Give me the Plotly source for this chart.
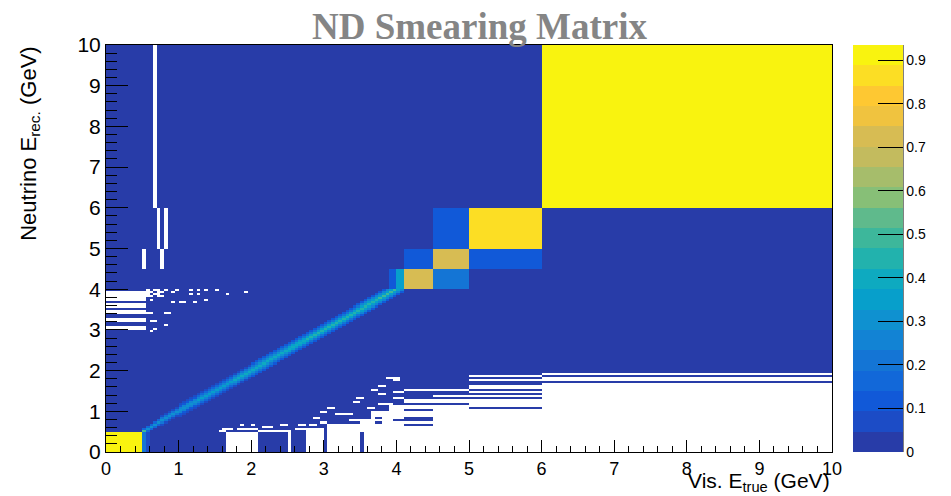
import numpy as np
import plotly.graph_objects as go

# ---- binning (GeV) ----
fine_true = np.round(np.arange(0.5, 4.1 + 1e-9, 0.05), 3)
fine_reco = np.round(np.arange(0.5, 4.0 + 1e-9, 0.05), 3)
true_edges = np.concatenate([[0.0], fine_true, [4.5, 5.0, 6.0, 10.0]])
reco_edges = np.concatenate([[0.0], fine_reco, [4.5, 5.0, 6.0, 10.0]])

# ---- matrix content ----
floor_value = 0.01  # populated but tiny cells

# coarse / special cells: true lo, true hi, reco lo, reco hi
block_true_lo = [0.0, 0.50, 0.55, 0.50, 3.90, 4.00, 4.10, 4.10, 4.50, 4.50, 4.50, 5.00, 5.00, 6.00]
block_true_hi = [0.5, 0.55, 0.60, 0.55, 4.00, 4.10, 4.50, 4.50, 5.00, 5.00, 5.00, 6.00, 6.00, 10.0]
block_reco_lo = [0.0, 0.00, 0.00, 0.50, 4.00, 4.00, 4.00, 4.50, 4.00, 4.50, 5.00, 4.50, 5.00, 6.00]
block_reco_hi = [0.5, 0.50, 0.50, 0.55, 4.50, 4.50, 4.50, 5.00, 4.50, 5.00, 6.00, 5.00, 6.00, 10.0]
block_value   = [0.92, 0.20, 0.08, 0.48, 0.10, 0.33, 0.73, 0.10, 0.21, 0.72, 0.10, 0.14, 0.86, 0.935]

# diagonal response, one entry per 0.25 GeV of true energy from 0.5 GeV
diag_core = [0.32, 0.30, 0.32, 0.34, 0.36, 0.38, 0.40, 0.41, 0.42, 0.43, 0.44, 0.45, 0.46, 0.47]
diag_off1 = [0.18, 0.22, 0.25, 0.27, 0.28, 0.30, 0.31, 0.32, 0.33, 0.33, 0.34, 0.34, 0.35, 0.35]
diag_off2 = [0.04, 0.08, 0.12, 0.15, 0.17, 0.19, 0.20, 0.21, 0.22, 0.22, 0.23, 0.23, 0.24, 0.24]
diag_off3 = [0.01, 0.03, 0.05, 0.07, 0.08, 0.09, 0.10, 0.11, 0.11, 0.12, 0.12, 0.13, 0.13, 0.13]

# empty regions: true lo, true hi, reco lo, reco hi
empty_regions = [
    (0.65, 0.70, 6.0, 10.0),
    (0.70, 0.75, 5.0, 6.0),
    (0.80, 0.85, 5.0, 6.0),
    (0.50, 0.55, 4.5, 5.0),
    (0.75, 0.80, 4.5, 5.0),
    (0.0, 0.55, 3.70, 3.95),
    (0.0, 0.55, 3.55, 3.65),
    (0.0, 0.55, 3.40, 3.50),
    (0.0, 0.55, 3.20, 3.30),
    (0.0, 0.55, 3.00, 3.10),
    (1.65, 2.10, 0.0, 0.5),
    (2.50, 2.55, 0.0, 0.55),
    (2.75, 3.00, 0.0, 0.60),
    (3.05, 3.50, 0.0, 0.70),
    (3.50, 3.55, 0.5, 0.80),
    (3.55, 4.10, 0.0, 0.80),
    (3.65, 3.90, 0.80, 1.00),
    (3.90, 4.10, 0.80, 1.15),
    (4.10, 4.50, 0.0, 1.55),
    (4.50, 5.00, 0.0, 1.55),
    (5.00, 6.00, 0.0, 1.90),
    (6.00, 10.0, 0.0, 1.95),
]

# populated rows inside the empty regions: true lo, true hi, reco lo, reco hi
filled_rows = [
    (3.70, 3.80, 0.70, 0.75),
    (3.70, 3.80, 0.80, 0.85),
    (3.95, 4.10, 0.75, 0.80),
    (4.10, 4.50, 1.30, 1.50),
    (4.10, 4.50, 1.15, 1.20),
    (4.10, 4.50, 1.00, 1.05),
    (4.10, 4.50, 0.75, 0.85),
    (4.10, 4.50, 0.65, 0.70),
    (4.50, 5.00, 1.40, 1.50),
    (4.50, 5.00, 1.30, 1.35),
    (4.50, 5.00, 1.15, 1.20),
    (5.00, 6.00, 1.80, 1.85),
    (5.00, 6.00, 1.65, 1.75),
    (5.00, 6.00, 1.50, 1.55),
    (5.00, 6.00, 1.40, 1.45),
    (5.00, 6.00, 1.30, 1.35),
    (5.00, 6.00, 1.05, 1.10),
    (6.00, 10.0, 1.85, 1.90),
    (6.00, 10.0, 1.70, 1.75),
]

# empty one-row dashes: true lo, true hi, reco lo
empty_dashes = [
    (1.55, 1.65, 0.50),
    (1.60, 1.75, 0.55), (1.80, 2.10, 0.55),
    (1.85, 1.90, 0.65), (2.00, 2.05, 0.65),
    (2.10, 2.50, 0.50),
    (2.15, 2.30, 0.60),
    (2.40, 2.50, 0.65),
    (2.60, 2.75, 0.55),
    (2.65, 2.75, 0.65),
    (2.80, 2.90, 0.65),
    (2.85, 2.95, 0.80),
    (2.95, 3.05, 0.70),
    (2.95, 3.05, 0.95),
    (3.05, 3.15, 1.05),
    (3.35, 3.50, 0.75),
    (3.15, 3.40, 0.90),
    (3.40, 3.50, 1.20),
    (3.45, 3.55, 1.30),
    (3.60, 3.70, 1.05),
    (3.65, 3.75, 1.50),
    (3.75, 3.85, 1.40),
    (3.75, 3.85, 1.60),
    (3.75, 3.95, 1.15),
    (3.85, 4.05, 1.80),
    (3.95, 4.05, 1.75),
    (3.95, 4.10, 1.45),
    (3.95, 4.10, 1.30),
]

# empty single cells: true lo, reco lo
empty_cells = [
    (0.55, 3.95), (0.65, 3.95), (0.70, 3.95), (0.80, 3.95), (0.95, 3.95),
    (1.15, 3.95), (1.25, 3.95), (1.35, 3.95), (1.50, 3.95),
    (0.55, 3.90), (0.60, 3.90), (0.70, 3.90), (0.75, 3.90), (0.90, 3.90), (1.90, 3.90),
    (0.55, 3.85), (0.65, 3.85), (0.70, 3.85), (1.15, 3.85), (1.25, 3.85), (1.65, 3.85),
    (0.55, 3.80), (0.60, 3.80), (0.70, 3.80), (0.75, 3.80),
    (0.60, 3.70), (0.90, 3.65), (1.00, 3.65), (1.05, 3.65), (1.20, 3.65), (1.35, 3.70),
    (0.55, 3.40), (0.60, 3.40), (0.80, 3.40), (0.85, 3.40),
    (0.60, 3.20), (0.65, 3.20), (0.80, 3.10), (0.60, 2.95), (0.65, 3.00),
]

# ---- build the matrix ----
tc = 0.5 * (true_edges[:-1] + true_edges[1:])
rc = 0.5 * (reco_edges[:-1] + reco_edges[1:])
z = np.full((len(rc), len(tc)), floor_value)


def region(t0, t1, r0, r1):
    return (rc[:, None] > r0) & (rc[:, None] < r1) & (tc[None, :] > t0) & (tc[None, :] < t1)


for t0, t1, r0, r1 in empty_regions:
    z[region(t0, t1, r0, r1)] = 0.0
for t0, t1, r0 in empty_dashes:
    z[region(t0, t1, r0, r0 + 0.05)] = 0.0
for t0, r0 in empty_cells:
    z[region(t0, t0 + 0.05, r0, r0 + 0.05)] = 0.0
for t0, t1, r0, r1 in filled_rows:
    z[region(t0, t1, r0, r1)] = floor_value

n_fine_reco = len(fine_reco) - 1
for i in range(len(fine_true) - 1):
    s = min(i // 5, len(diag_core) - 1)
    profile = ((0, diag_core[s]), (1, diag_off1[s]), (-1, diag_off1[s]),
               (2, diag_off2[s]), (-2, diag_off2[s]), (3, diag_off3[s]), (-3, diag_off3[s]))
    for d, v in profile:
        k = i + d
        if 0 <= k < n_fine_reco:
            z[k + 1, i + 1] = max(z[k + 1, i + 1], v)

for t0, t1, r0, r1, v in zip(block_true_lo, block_true_hi, block_reco_lo, block_reco_hi, block_value):
    z[region(t0, t1, r0, r1)] = v

z_plot = np.where(z > 0, z, np.nan)

# ---- palette: 20 contour levels ----
zmax = 0.935
band_colors = [
    "#283ca8", "#1c4cc6", "#1159d8", "#1268d9", "#1475d5",
    "#1283d4", "#0f91d0", "#079fcb", "#0eaac0", "#22b2ad",
    "#3db79b", "#5fba8c", "#87bf77", "#a6bd6b", "#c3bb5e",
    "#d7bc53", "#f0c33f", "#fec832", "#fcde24", "#f9f30f",
]
nb = len(band_colors)
colorscale = []
for k, c in enumerate(band_colors):
    colorscale.append([k / nb, c])
    colorscale.append([(k + 1) / nb, c])

cbar_ticks = [0, 0.1, 0.2, 0.3, 0.4, 0.5, 0.6, 0.7, 0.8, 0.9]
cbar_labels = ["0", "0.1", "0.2", "0.3", "0.4", "0.5", "0.6", "0.7", "0.8", "0.9"]

fig = go.Figure(
    go.Heatmap(
        x=true_edges,
        y=reco_edges,
        z=z_plot,
        zmin=0,
        zmax=zmax,
        colorscale=colorscale,
        hoverongaps=False,
        colorbar=dict(
            x=1.029, xanchor="left", xpad=0,
            y=0, yanchor="bottom", len=1, ypad=0,
            thickness=50, outlinewidth=0,
            tickmode="array", tickvals=cbar_ticks, ticktext=cbar_labels,
            ticks="inside", ticklen=25, tickwidth=1, tickcolor="black",
            tickfont=dict(family="Liberation Sans", size=14, color="black"),
        ),
    )
)

axis_font = dict(family="Liberation Sans", color="black")
fig.update_xaxes(
    range=[0, 10], tickmode="linear", tick0=0, dtick=1,
    ticks="inside", ticklen=12, tickwidth=1, tickcolor="black",
    minor=dict(dtick=0.2, ticks="inside", ticklen=6, tickcolor="black"),
    showline=True, linecolor="black", linewidth=1, mirror=True,
    showgrid=False, zeroline=False,
    tickfont=dict(size=18, **axis_font),
)
fig.update_yaxes(
    range=[0, 10], tickmode="linear", tick0=0, dtick=1,
    ticks="inside", ticklen=22, tickwidth=1, tickcolor="black",
    minor=dict(dtick=0.2, ticks="inside", ticklen=11, tickcolor="black"),
    showline=True, linecolor="black", linewidth=1, mirror=True,
    showgrid=False, zeroline=False,
    tickfont=dict(size=21, **axis_font),
)

# palette axis line on the right of the colour bar
fig.add_shape(type="line", xref="paper", yref="paper",
              x0=(903 - 106) / 726, x1=(903 - 106) / 726, y0=0, y1=1,
              line=dict(color="black", width=1))

fig.add_annotation(
    text="ND Smearing Matrix", xref="paper", yref="paper",
    x=0.515, y=1.0, xanchor="center", yanchor="bottom", yshift=-4,
    showarrow=False,
    font=dict(family="Liberation Serif", size=37, color="#858585", weight="bold"),
)
fig.add_annotation(
    text="Vis. E<sub>true</sub> (GeV)", xref="paper", yref="paper",
    x=1.0, y=-0.037, xanchor="right", yanchor="top", showarrow=False,
    font=dict(size=21, **axis_font),
)
fig.add_annotation(
    text="Neutrino E<sub>rec.</sub> (GeV)", xref="paper", yref="paper",
    x=-0.105, y=1.0, xanchor="center", yanchor="top", textangle=-90,
    showarrow=False, font=dict(size=22, **axis_font),
)

fig.update_layout(
    width=951, height=496,
    margin=dict(l=106, r=119, t=45, b=44, autoexpand=False),
    paper_bgcolor="white", plot_bgcolor="white",
    showlegend=False,
)

fig.write_html("out.html")
